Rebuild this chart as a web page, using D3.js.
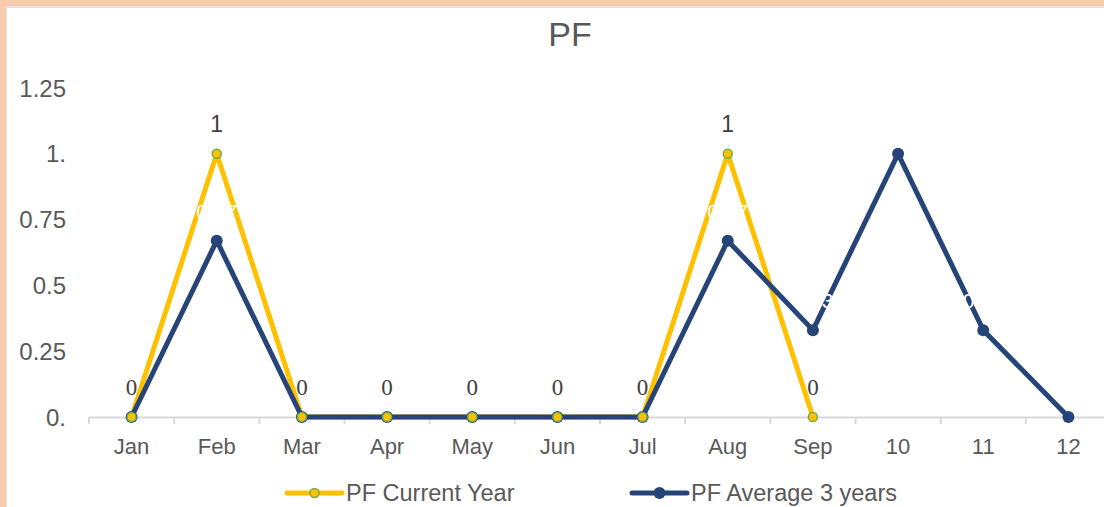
<!DOCTYPE html>
<html><head><meta charset="utf-8">
<script src="https://cdn.jsdelivr.net/npm/d3@7"></script>
<style>body{margin:0;background:#fff;}svg{display:block;}</style>
</head><body>
<svg id="c" width="1104" height="507"></svg>
<script>
const categories = ["Jan","Feb","Mar","Apr","May","Jun","Jul","Aug","Sep","10","11","12"];
const currentYear = [0,1,0,0,0,0,0,1,0];
const avg3Years = [0,0.67,0,0,0,0,0,0.67,0.33,1,0.33,0];
const currentLabels = ["0","1","0","0","0","0","0","1","0"];
const avgLabels = ["","0.67","","","","","","0.67","0.33","1","0.33",""];
const yTicks = [0,0.25,0.5,0.75,1,1.25];
const yTickLabels = ["0.","0.25","0.5","0.75","1.","1.25"];
const seriesNames = ["PF Current Year","PF Average 3 years"];

const svg = d3.select("#c");
const W=1104,H=507;
const SANS = "Liberation Sans, Arial, sans-serif";
// border
svg.append("rect").attr("x",0).attr("y",0).attr("width",W).attr("height",H).attr("fill","#F8CBAD");
svg.append("rect").attr("x",6).attr("y",6).attr("width",W).attr("height",H).attr("fill","#e3e3e3");
svg.append("rect").attr("x",7).attr("y",8).attr("width",W).attr("height",H).attr("fill","#ffffff");

const x = d3.scaleBand().domain(categories).range([89,1111]).padding(0);
const y = d3.scaleLinear().domain([0,1.25]).range([417,88]);
const cx = d => x(d)+x.bandwidth()/2;

// title
svg.append("text").attr("x",570).attr("y",46).attr("text-anchor","middle")
  .attr("font-family",SANS).attr("font-size",34).attr("fill","#595959").text("PF");

// y axis labels
svg.selectAll(".yl").data(yTicks).enter().append("text")
  .attr("x",66).attr("y",d=>y(d)).attr("dy","0.36em").attr("text-anchor","end")
  .attr("font-family",SANS).attr("font-size",24).attr("fill","#595959")
  .text((d,i)=>yTickLabels[i]);

// x axis
const xAxis = d3.axisBottom(x).tickSize(0).tickPadding(0);
const gx = svg.append("g").attr("transform","translate(0,417)").call(xAxis);
gx.select(".domain").remove();
gx.selectAll("text").attr("y",37).attr("dy",0).attr("font-family",SANS)
  .attr("font-size",22).attr("fill","#595959");
svg.append("line").attr("x1",89).attr("x2",1104).attr("y1",417.5).attr("y2",417.5).attr("stroke","#d9d9d9").attr("stroke-width",2);
const bounds = categories.map(c=>x(c));
svg.selectAll(".tk").data(bounds).enter().append("line")
  .attr("x1",d=>d).attr("x2",d=>d).attr("y1",417).attr("y2",424).attr("stroke","#d9d9d9").attr("stroke-width",2);

const line = d3.line().x(d=>cx(d.c)).y(d=>y(d.v));
const curData = currentYear.map((v,i)=>({c:categories[i],v}));
const avgData = avg3Years.map((v,i)=>({c:categories[i],v}));

svg.append("path").datum(curData).attr("d",line).attr("fill","none").attr("stroke","#FFC000").attr("stroke-width",5).attr("stroke-linejoin","round");
svg.append("path").datum(avgData).attr("d",line).attr("fill","none").attr("stroke","#264478").attr("stroke-width",5).attr("stroke-linejoin","round");

svg.selectAll(".ap").data(avgData).enter().append("circle")
  .attr("cx",d=>cx(d.c)).attr("cy",d=>y(d.v)).attr("r",6).attr("fill","#264478");
svg.selectAll(".cp").data(curData).enter().append("circle")
  .attr("cx",d=>cx(d.c)).attr("cy",d=>y(d.v)).attr("r",4.5).attr("fill","#FFC000").attr("stroke","#70AD47").attr("stroke-width",1.5);

// avg labels (white)
svg.selectAll(".al").data(avgData.filter((d,i)=>avgLabels[i]!=="")).enter().append("text")
  .attr("x",d=>cx(d.c)).attr("y",d=>y(d.v)-22).attr("text-anchor","middle")
  .attr("font-family",SANS).attr("font-size",21).attr("fill","#ffffff")
  .text(d=>avgLabels[categories.indexOf(d.c)]);

// current labels
svg.selectAll(".cl").data(curData).enter().append("text")
  .attr("x",d=>cx(d.c)).attr("y",d=>y(d.v)-22).attr("text-anchor","middle")
  .attr("font-family",d=>d.v===0?"Liberation Serif, Times New Roman, serif":SANS)
  .attr("font-size",23).attr("fill","#404040")
  .text((d,i)=>currentLabels[i]);

// legend
const lg = svg.append("g");
const items = [{x:287,col:"#FFC000",stroke:"#70AD47",r:4.5,name:seriesNames[0]},{x:632,col:"#264478",stroke:"none",r:6,name:seriesNames[1]}];
items.forEach(it=>{
  lg.append("line").attr("x1",it.x).attr("x2",it.x+55).attr("y1",493).attr("y2",493).attr("stroke",it.col).attr("stroke-width",5).attr("stroke-linecap","round");
  lg.append("circle").attr("cx",it.x+27.5).attr("cy",493).attr("r",it.r).attr("fill",it.col).attr("stroke",it.stroke).attr("stroke-width",1.5);
  lg.append("text").attr("x",it.x+59).attr("y",493).attr("dy","0.36em")
    .attr("font-family",SANS).attr("font-size",23.5).attr("fill","#595959").text(it.name);
});
</script>
</body></html>
